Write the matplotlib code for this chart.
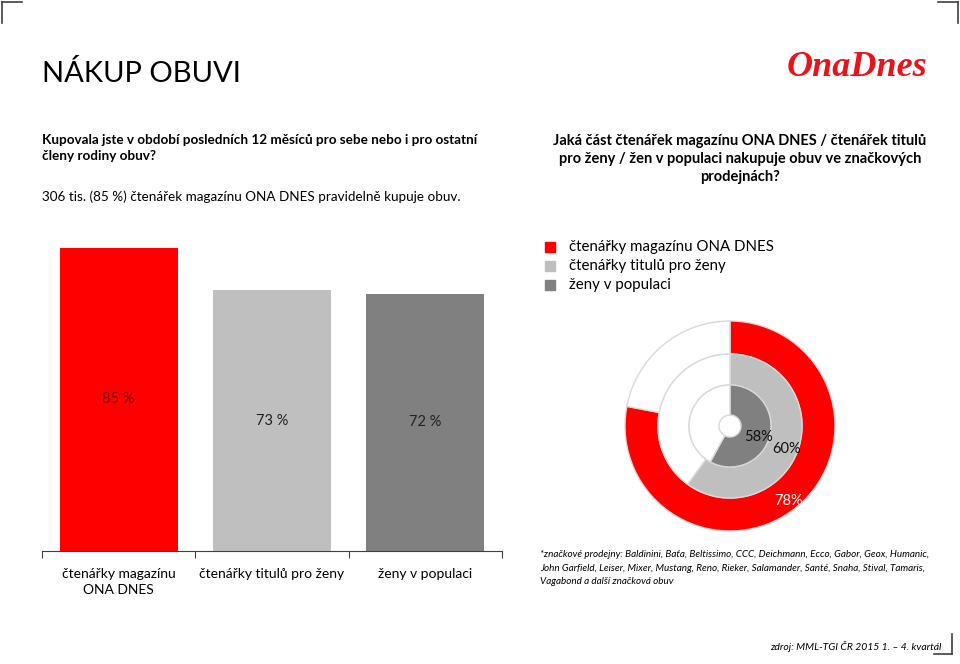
import matplotlib
matplotlib.use("Agg")
import matplotlib.pyplot as plt
import numpy as np
from matplotlib.patches import Rectangle
from matplotlib.lines import Line2D

plt.rcParams['font.family'] = ['Lato', 'DejaVu Sans']

# data
categories = ["čtenářky magazínu\nONA DNES", "čtenářky titulů pro ženy", "ženy v populaci"]
bar_values = [85, 73, 72]
bar_labels = ["85 %", "73 %", "72 %"]
legend_names = ["čtenářky magazínu ONA DNES", "čtenářky titulů pro ženy", "ženy v populaci"]
donut_values = [78, 60, 58]   # outer -> inner

colors = ["#ff0000", "#bfbfbf", "#808080"]
label_colors = ["#7f0000", "#222222", "#222222"]

W, H = 960, 664
fig = plt.figure(figsize=(W / 100, H / 100), dpi=100)
fig.patch.set_facecolor("white")


def fx(x):
    return x / W


def fy(y):
    return 1 - y / H


def box(left, top, width, height):
    return [fx(left), fy(top + height), width / W, height / H]


# corner marks
def line(x0, y0, x1, y1):
    fig.add_artist(Line2D([fx(x0), fx(x1)], [fy(y0), fy(y1)], color="#404040", lw=1.2))


line(2, 2, 22, 2)
line(2, 2, 2, 23)
line(938, 2, 958, 2)
line(958, 2, 958, 23)
line(952, 634, 952, 654)
line(934, 654, 952, 654)

# titles and texts
fig.text(fx(42), fy(73), "NÁKUP OBUVI", fontsize=21, va="center", ha="left", color="black")
fig.text(fx(857), fy(68), "OnaDnes", fontsize=26, va="center", ha="center", color="#e8141b",
         family="Liberation Serif", weight="bold", style="italic")

fig.text(fx(42), fy(134), "Kupovala jste v období posledních 12 měsíců pro sebe nebo i pro ostatní\nčleny rodiny obuv?",
         fontsize=9.7, weight="bold", va="top", ha="left", linespacing=1.35)
fig.text(fx(42), fy(197), "306 tis. (85 %) čtenářek magazínu ONA DNES pravidelně kupuje obuv.",
         fontsize=9.7, va="center", ha="left")

fig.text(fx(740), fy(134), "Jaká část čtenářek magazínu ONA DNES / čtenářek titulů\npro ženy / žen v populaci nakupuje obuv ve značkových\nprodejnách?",
         fontsize=10.5, weight="bold", va="top", ha="center", multialignment="center", linespacing=1.35)

# bar chart
ax = fig.add_axes(box(42, 194, 460, 357))
x = np.arange(len(bar_values))
ax.bar(x, bar_values, width=0.77, color=colors)
for i, v in enumerate(bar_values):
    ax.text(i, v / 2, bar_labels[i], ha="center", va="center", fontsize=10.5, color=label_colors[i])
ax.set_xlim(-0.5, 2.5)
ax.set_ylim(0, 100)
ax.set_yticks([])
for s in ["top", "right", "left"]:
    ax.spines[s].set_visible(False)
ax.spines["bottom"].set_color("#404040")
ax.set_xticks([-0.5, 0.5, 1.5, 2.5])
ax.set_xticklabels([])
ax.tick_params(axis="x", which="major", direction="out", length=5, color="#404040")
ax.set_xticks(x, minor=True)
ax.set_xticklabels(categories, minor=True, fontsize=10)
ax.tick_params(axis="x", which="minor", length=0, pad=12)
for t in ax.get_xticklabels(minor=True):
    t.set_linespacing(1.45)

# donut chart
R = 105.0
cx, cy = 730, 426
half = 120
dax = fig.add_axes(box(cx - half, cy - half, 2 * half, 2 * half))
radii = [1.0, 72 / R, 41 / R]
inner = [72 / R, 41 / R, 11 / R]
for v, c, r, ri in zip(donut_values, colors, radii, inner):
    dax.pie([v, 100 - v], radius=r, startangle=90, counterclock=False,
            colors=[c, "white"],
            wedgeprops=dict(width=r - ri, edgecolor="#d9d9d9", linewidth=1))
    mid = np.deg2rad(90 - 360 * v / 200)
    rm = (r + ri) / 2 + 0.03
    dax.text(rm * np.cos(mid), rm * np.sin(mid) - 0.04, f"{v}%", ha="center", va="center",
             fontsize=10.5, color="white" if c == colors[0] else "#111111")
dax.set_xlim(-half / R, half / R)
dax.set_ylim(-half / R, half / R)
dax.set_aspect("equal")
dax.axis("off")

# legend
for i, (name, c) in enumerate(zip(legend_names, colors)):
    yy = 247 + i * 19
    fig.add_artist(Rectangle((fx(545), fy(yy + 5)), 10 / W, 10 / H, color=c, transform=fig.transFigure))
    fig.text(fx(569), fy(yy), name, fontsize=10.8, va="center", ha="left")

# footnote and source
fig.text(fx(540), fy(550), "*značkové prodejny: Baldinini, Baťa, Beltissimo, CCC, Deichmann, Ecco, Gabor, Geox, Humanic,\n"
         "John Garfield, Leiser, Mixer, Mustang, Reno, Rieker, Salamander, Santé, Snaha, Stival, Tamaris,\n"
         "Vagabond a další značková obuv",
         fontsize=7.1, style="italic", va="top", ha="left", linespacing=1.65)
fig.text(fx(941), fy(646), "zdroj: MML-TGI ČR 2015 1. – 4. kvartál", fontsize=7.5, style="italic",
         va="center", ha="right")

fig.savefig("out.png", dpi=100)
